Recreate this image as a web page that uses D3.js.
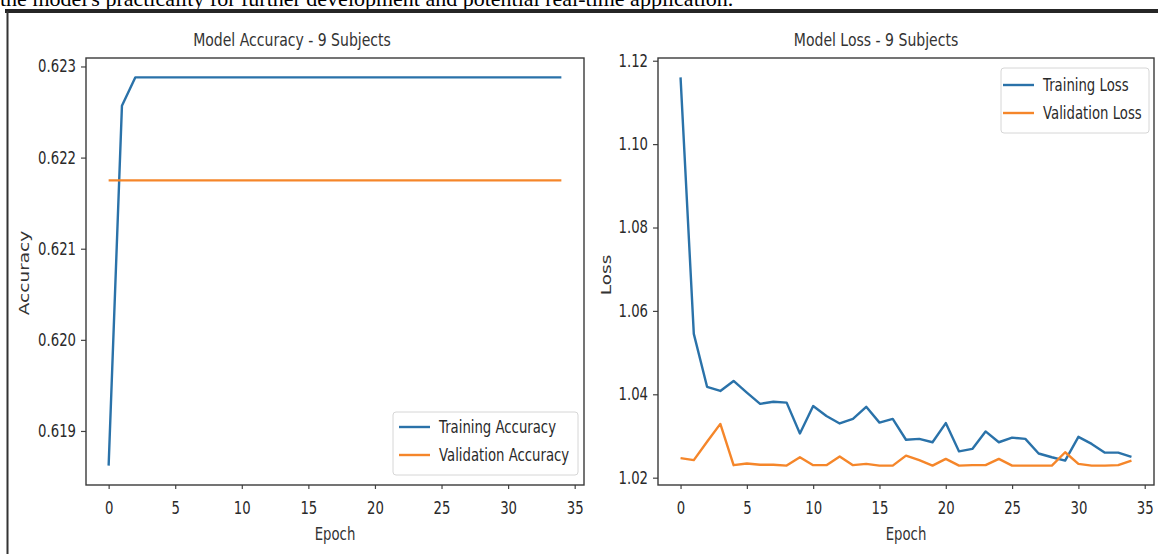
<!DOCTYPE html>
<html>
<head>
<meta charset="utf-8">
<script src="https://cdn.jsdelivr.net/npm/d3@7"></script>
<style>
body { margin: 0; background: #fff; }
svg { display: block; }
</style>
</head>
<body>
<svg id="chart" width="1158" height="554"></svg>
<script>
// values
const epochs = [0,1,2,3,4,5,6,7,8,9,10,11,12,13,14,15,16,17,18,19,20,21,22,23,24,25,26,27,28,29,30,31,32,33,34];

const trainAcc = [0.61862,0.62257,0.62288,0.62288,0.62288,0.62288,0.62288,0.62288,0.62288,0.62288,
                  0.62288,0.62288,0.62288,0.62288,0.62288,0.62288,0.62288,0.62288,0.62288,0.62288,
                  0.62288,0.62288,0.62288,0.62288,0.62288,0.62288,0.62288,0.62288,0.62288,0.62288,
                  0.62288,0.62288,0.62288,0.62288,0.62288];
const valAcc = [0.62175,0.62175,0.62175,0.62175,0.62175,0.62175,0.62175,0.62175,0.62175,0.62175,
                0.62175,0.62175,0.62175,0.62175,0.62175,0.62175,0.62175,0.62175,0.62175,0.62175,
                0.62175,0.62175,0.62175,0.62175,0.62175,0.62175,0.62175,0.62175,0.62175,0.62175,
                0.62175,0.62175,0.62175,0.62175,0.62175];

const trainLoss = [1.1160,1.0545,1.0418,1.0408,1.0432,1.0404,1.0377,1.0382,1.0380,1.0306,
                   1.0372,1.0348,1.0330,1.0341,1.0370,1.0332,1.0341,1.0291,1.0293,1.0285,
                   1.0331,1.0263,1.0269,1.0311,1.0285,1.0296,1.0293,1.0258,1.0249,1.0241,
                   1.0298,1.0281,1.0260,1.0260,1.0250];
const valLoss = [1.0247,1.0242,1.0286,1.0329,1.0230,1.0234,1.0231,1.0231,1.0229,1.0249,
                 1.0230,1.0230,1.0251,1.0230,1.0233,1.0229,1.0229,1.0253,1.0242,1.0229,
                 1.0245,1.0229,1.0230,1.0230,1.0245,1.0229,1.0229,1.0229,1.0229,1.0261,
                 1.0233,1.0229,1.0229,1.0230,1.0241];

const epochTicks = [0,5,10,15,20,25,30,35];
const accTicks = [0.619,0.620,0.621,0.622,0.623];
const lossTicks = [1.02,1.04,1.06,1.08,1.10,1.12];

const caption = "the model's practicality for further development and potential real-time application.";

const BLUE = "#2a72a9";
const ORANGE = "#f5862a";
const FONT = "DejaVu Sans, Verdana, sans-serif";
const SX = 0.78;   // the screenshot is squeezed sideways

const svg = d3.select("#chart");

// page bits around the figure
svg.append("text")
   .attr("x", 0)
   .attr("y", 6)
   .text(caption)
   .style("font-family", "Liberation Serif, Times New Roman, serif")
   .style("font-size", "22px")
   .style("fill", "#000")

svg.append("line")
   .attr("x1", 5).attr("y1", 11)
   .attr("x2", 1158).attr("y2", 11)
   .attr("stroke", "#262626")
   .attr("stroke-width", 4)
svg.append("line")
   .attr("x1", 7.5).attr("y1", 11)
   .attr("x2", 7.5).attr("y2", 554)
   .attr("stroke", "#333")
   .attr("stroke-width", 2)

function pad(ext)
{
    let r = ext[1] - ext[0];
    return [ext[0] - 0.05 * r, ext[1] + 0.05 * r];
}

function drawPanel(p)
{
    let g = svg.append("g");

    let xScale = d3.scaleLinear()
                   .domain(pad(d3.extent(epochs)))
                   .range([p.left, p.right]);
    let yScale = d3.scaleLinear()
                   .domain(pad(d3.extent(p.series.flatMap(s => s.values))))
                   .range([p.bottom, p.top]);

    // x axis
    let xAxis = g.append("g")
                 .attr("transform", `translate(0,${p.bottom})`)
                 .call(d3.axisBottom(xScale).tickValues(epochTicks).tickSize(4).tickSizeOuter(0));
    xAxis.select(".domain").remove();
    xAxis.selectAll("line").attr("stroke", "#444").attr("stroke-width", 1.2);
    xAxis.selectAll("text")
         .attr("y", 17)
         .attr("transform", `scale(${SX},1)`)
         .style("font-family", FONT)
         .style("font-size", "17px")
         .style("fill", "#2a2a2a");

    // y axis
    let yAxis = g.append("g")
                 .attr("transform", `translate(${p.left},0)`)
                 .call(d3.axisLeft(yScale).tickValues(p.yTicks).tickFormat(d3.format(p.yFormat)).tickSize(5).tickSizeOuter(0));
    yAxis.select(".domain").remove();
    yAxis.selectAll("line").attr("stroke", "#444").attr("stroke-width", 1.2);
    yAxis.selectAll("text")
         .attr("x", -10 / SX)
         .attr("transform", `scale(${SX},1)`)
         .style("font-family", FONT)
         .style("font-size", "17px")
         .style("fill", "#2a2a2a");

    // lines
    let line = d3.line()
                 .x((d, i) => xScale(epochs[i]))
                 .y(d => yScale(d));
    for(let s of p.series)
    {
        g.append("path")
         .datum(s.values)
         .attr("d", line)
         .attr("fill", "none")
         .attr("stroke", s.color)
         .attr("stroke-width", 2.4)
         .attr("stroke-linejoin", "round");
    }

    // frame
    g.append("rect")
     .attr("x", p.left)
     .attr("y", p.top)
     .attr("width", p.right - p.left)
     .attr("height", p.bottom - p.top)
     .attr("fill", "none")
     .attr("stroke", "#3a3a3a")
     .attr("stroke-width", 1.4);

    // title and labels
    g.append("text")
     .attr("transform", `translate(${p.titleX},${p.top - 12}) scale(${SX},1)`)
     .attr("text-anchor", "middle")
     .text(p.title)
     .style("font-family", FONT)
     .style("font-size", "18px")
     .style("fill", "#333");
    g.append("text")
     .attr("transform", `translate(${(p.left + p.right) / 2},540) scale(${SX},1)`)
     .attr("text-anchor", "middle")
     .text("Epoch")
     .style("font-family", FONT)
     .style("font-size", "17px")
     .style("fill", "#333");
    g.append("text")
     .attr("transform", `translate(${p.yLabelX},${p.yLabelY}) rotate(-90) scale(1,${SX})`)
     .attr("text-anchor", "middle")
     .text(p.yLabel)
     .style("font-family", FONT)
     .style("font-size", "18.5px")
     .style("fill", "#333");

    // legend
    let lg = p.legend;
    g.append("rect")
     .attr("x", lg.x)
     .attr("y", lg.y)
     .attr("width", lg.w)
     .attr("height", lg.h)
     .attr("rx", 3)
     .attr("fill", "#fff")
     .attr("fill-opacity", 0.85)
     .attr("stroke", "#d6d6d6")
     .attr("stroke-width", 1);
    p.series.forEach((s, i) => {
        let cy = lg.y + lg.first + i * 28;
        g.append("line")
         .attr("x1", lg.x + lg.lineX).attr("x2", lg.x + lg.lineX + 31)
         .attr("y1", cy).attr("y2", cy)
         .attr("stroke", s.color)
         .attr("stroke-width", 2.4);
        g.append("text")
         .attr("transform", `translate(${lg.x + lg.lineX + 40},${cy}) scale(${SX},1)`)
         .attr("dy", "0.35em")
         .text(s.name)
         .style("font-family", FONT)
         .style("font-size", "17px")
         .style("fill", "#2a2a2a");
    });
}

drawPanel({
    left: 86, right: 584, top: 58, bottom: 485,
    series: [{name: "Training Accuracy", values: trainAcc, color: BLUE},
             {name: "Validation Accuracy", values: valAcc, color: ORANGE}],
    yTicks: accTicks, yFormat: ".3f",
    title: "Model Accuracy - 9 Subjects", titleX: 292,
    yLabel: "Accuracy", yLabelX: 28.5, yLabelY: 273,
    legend: {x: 393, y: 412, w: 185, h: 63, first: 15, lineX: 6}
});

drawPanel({
    left: 658, right: 1154, top: 58, bottom: 485,
    series: [{name: "Training Loss", values: trainLoss, color: BLUE},
             {name: "Validation Loss", values: valLoss, color: ORANGE}],
    yTicks: lossTicks, yFormat: ".2f",
    title: "Model Loss - 9 Subjects", titleX: 876,
    yLabel: "Loss", yLabelX: 610.5, yLabelY: 275,
    legend: {x: 1001, y: 68, w: 148, h: 65, first: 17, lineX: 2}
});
</script>
</body>
</html>
